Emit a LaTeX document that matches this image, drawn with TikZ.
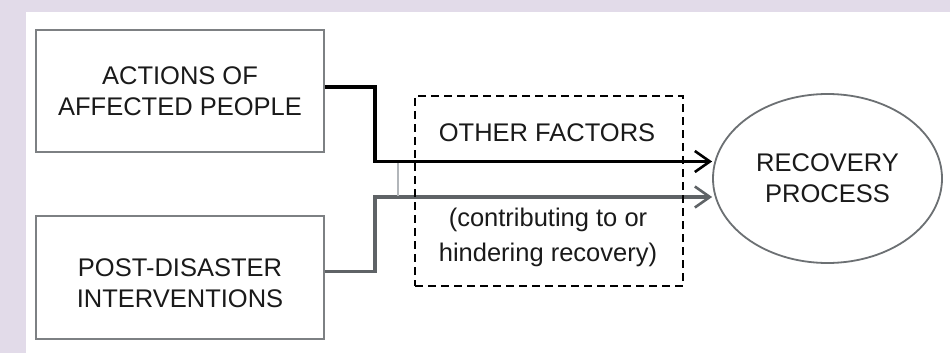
\documentclass[tikz,border=0pt]{standalone}
\usepackage{fontspec}
\setmainfont{Liberation Sans}
\usetikzlibrary{shapes.geometric,arrows.meta}
\definecolor{lav}{RGB}{226,219,233}
\definecolor{boxgray}{RGB}{125,128,131}
\definecolor{linegray}{RGB}{95,99,102}
\definecolor{ellgray}{RGB}{108,112,115}
\definecolor{vgray}{RGB}{178,182,186}
\definecolor{txt}{RGB}{26,26,26}
\begin{document}
\begin{tikzpicture}[x=1pt,y=-1pt,
  every node/.style={text=txt,font=\fontsize{25.5}{31}\selectfont,align=center},
  sqbox/.style={draw=boxgray,line width=1.5pt,minimum width=288pt,minimum height=122pt,inner sep=0pt},
  dbox/.style={draw=black,line width=1.3pt,dash pattern=on 8pt off 5pt,minimum width=268pt,minimum height=190pt,inner sep=0pt},
  ell/.style={ellipse,draw=ellgray,line width=1.8pt,minimum width=229pt,minimum height=169pt,inner sep=0pt},
  conn/.style={line width=3.3pt,-{Straight Barb[length=15pt,width=21pt,line width=2.6pt]}},
]
\useasboundingbox (0,0) rectangle (950,353);
\fill[lav] (0,0) rectangle (950,353);
\fill[white] (26,12) rectangle (950,353);

\node[sqbox] (b1) at (180,91) {ACTIONS OF\\AFFECTED PEOPLE};
\node[sqbox,minimum height=123pt] (b2) at (180,277.5) {};
\node (b2t) at (180,283) {POST-DISASTER\\INTERVENTIONS};
\node[ell] (rp) at (827.5,178.5) {RECOVERY\\PROCESS};

\coordinate (k1) at (375,161.5);
\coordinate (k2) at (375,197);
\draw[conn,black] ([yshift=4pt]b1.east) -| (k1) -- (k1 -| rp.west);
\draw[conn,linegray] ([yshift=6pt]b2.east) -| (k2) -- (k2 -| rp.west);
\coordinate (v1) at (398,163);
\coordinate (v2) at (398,195.5);
\draw[vgray,line width=1.6pt] (v1) -- (v2);

\node[dbox] (of) at (549,191) {};
\node (oft) at (547,133) {OTHER FACTORS};
\node[font=\fontsize{25.5}{35}\selectfont] (ofs) at (548,237.5) {(contributing to or\\hindering recovery)};
\end{tikzpicture}
\end{document}
